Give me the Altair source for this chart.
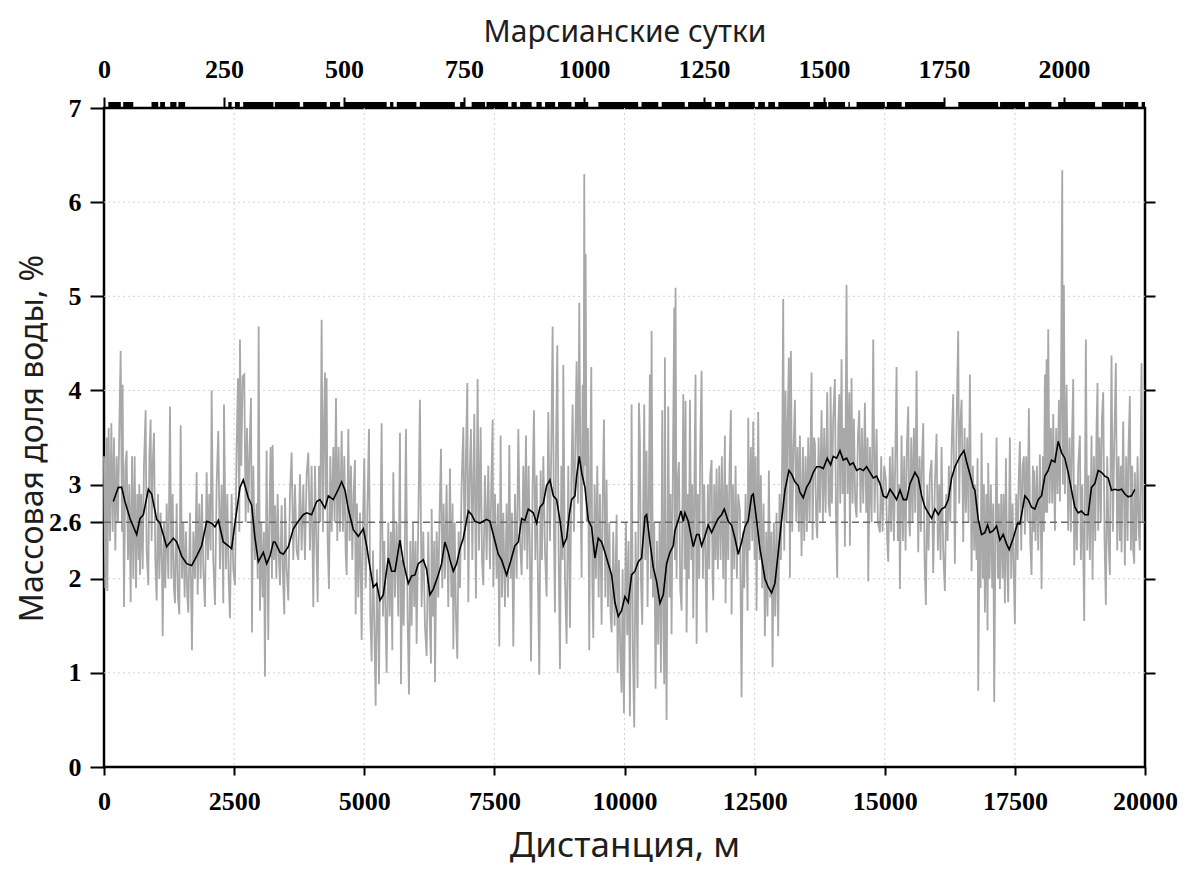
import altair as alt
import pandas as pd

# ---- black smoothed line (distance m, water %) ----
black_m = [179, 275, 339, 403, 499, 628, 692, 756, 852, 916, 1012, 1076, 1204, 1332, 1396, 1492, 1588, 1684, 1780, 1876, 1972, 2068, 2132, 2197, 2292, 2388, 2452, 2516, 2613, 2676, 2772, 2837, 2901, 2965, 3061, 3125, 3189, 3253,
           3285, 3381, 3445, 3541, 3637, 3733, 3829, 3893, 3989, 4085, 4150, 4246, 4310, 4406, 4502, 4566, 4630, 4694, 4790, 4886, 4982, 5046, 5110, 5174, 5238, 5302, 5366, 5462, 5526, 5590, 5686, 5750, 5846, 5910, 5974, 6038, 6134, 6198, 6262, 6326, 6422, 6486, 6550, 6614,
           6647, 6711, 6775, 6839, 6903, 6999, 7063, 7127, 7223, 7287, 7351, 7415, 7479, 7575, 7639, 7735, 7799, 7895, 7960, 8024, 8088, 8152, 8248, 8312, 8376, 8440, 8504, 8568, 8632, 8696, 8760, 8824, 8888, 8939, 8984, 9048, 9080, 9131, 9176, 9240, 9304, 9368, 9432, 9496, 9560, 9624, 9688, 9752, 9816, 9880, 9944,
           10008, 10072, 10136, 10200, 10265, 10329, 10393, 10425, 10489, 10553, 10617, 10681, 10745, 10809, 10873, 10937, 10969, 11033, 11085, 11129, 11161, 11225, 11289, 11321, 11385, 11430, 11481, 11545, 11609, 11673, 11737, 11801, 11865, 11917, 11993, 12057, 12122, 12186, 12250, 12314, 12378, 12442, 12474, 12538, 12602, 12698, 12762, 12826, 12890, 12954, 13018, 13082, 13159, 13210, 13274, 13338,
           13370, 13434, 13498, 13562, 13627, 13691, 13755, 13819, 13896, 13960, 14011, 14075, 14139, 14203, 14267, 14331, 14395, 14460, 14524, 14588, 14652, 14716, 14780, 14844, 14908, 14972, 15036, 15100, 15164, 15228, 15293, 15357, 15421, 15485, 15581, 15645, 15709, 15773, 15837, 15901, 15965, 16029, 16093, 16157, 16221, 16285, 16349, 16445, 16522, 16573, 16637, 16701,
           16732, 16796, 16860, 16924, 16975, 17020, 17084, 17148, 17212, 17276, 17340, 17391, 17468, 17552, 17596, 17692, 17756, 17820, 17884, 17948, 18012, 18076, 18140, 18204, 18268, 18332, 18396, 18460, 18524, 18588, 18652, 18716, 18780, 18844, 18908, 18972, 19036, 19100, 19164, 19228, 19293, 19357, 19421, 19485, 19549, 19613, 19677, 19741, 19805]
black_v = [2.82, 2.97, 2.97, 2.82, 2.64, 2.47, 2.64, 2.68, 2.95, 2.90, 2.63, 2.59, 2.34, 2.43, 2.39, 2.24, 2.16, 2.14, 2.24, 2.35, 2.61, 2.59, 2.55, 2.62, 2.39, 2.35, 2.32, 2.59, 2.97, 3.05, 2.86, 2.78, 2.43, 2.18, 2.28, 2.16, 2.24, 2.39,
           2.39, 2.28, 2.26, 2.34, 2.53, 2.61, 2.68, 2.70, 2.68, 2.82, 2.84, 2.75, 2.88, 2.84, 2.95, 3.03, 2.94, 2.74, 2.52, 2.45, 2.53, 2.35, 2.12, 1.91, 1.95, 1.77, 1.83, 2.22, 2.08, 2.08, 2.41, 2.18, 1.95, 2.03, 2.04, 2.16, 2.20, 2.10, 1.83, 1.89, 2.04, 2.16, 2.39, 2.28,
           2.20, 2.08, 2.16, 2.32, 2.43, 2.72, 2.68, 2.61, 2.59, 2.61, 2.63, 2.61, 2.47, 2.26, 2.20, 2.04, 2.16, 2.35, 2.39, 2.64, 2.62, 2.74, 2.70, 2.59, 2.76, 2.80, 2.99, 3.05, 2.88, 2.84, 2.62, 2.35, 2.43, 2.68, 2.84, 2.88, 3.09, 3.30, 3.13, 2.97, 2.62, 2.55, 2.22, 2.43, 2.39, 2.28, 2.16, 2.04, 1.75, 1.60, 1.66,
           1.81, 1.75, 2.04, 2.08, 2.18, 2.22, 2.66, 2.68, 2.39, 2.12, 1.97, 1.74, 1.83, 2.16, 2.28, 2.35, 2.51, 2.62, 2.72, 2.61, 2.70, 2.61, 2.43, 2.34, 2.47, 2.47, 2.35, 2.45, 2.57, 2.49, 2.57, 2.64, 2.68, 2.74, 2.61, 2.57, 2.43, 2.26, 2.39, 2.55, 2.62, 2.88, 2.90, 2.62, 2.32, 2.00, 1.91, 1.85, 1.95, 2.28, 2.62, 2.94, 3.15, 3.11, 3.03, 2.99,
           2.92, 2.86, 2.97, 3.03, 3.13, 3.19, 3.19, 3.17, 3.28, 3.21, 3.30, 3.28, 3.36, 3.26, 3.28, 3.21, 3.23, 3.15, 3.17, 3.15, 3.19, 3.13, 3.07, 3.09, 3.01, 2.88, 2.86, 2.95, 2.90, 2.84, 2.94, 2.84, 2.84, 3.01, 3.13, 3.07, 2.88, 2.76, 2.70, 2.64, 2.74, 2.68, 2.74, 2.76, 2.84, 3.07, 3.19, 3.30, 3.36, 3.24, 3.11, 2.97,
           2.94, 2.63, 2.47, 2.49, 2.57, 2.49, 2.51, 2.56, 2.41, 2.47, 2.37, 2.31, 2.43, 2.59, 2.58, 2.88, 2.84, 2.76, 2.74, 2.84, 2.88, 3.09, 3.15, 3.26, 3.24, 3.46, 3.34, 3.28, 3.13, 2.94, 2.76, 2.70, 2.72, 2.68, 2.68, 2.97, 3.01, 3.15, 3.13, 3.09, 3.07, 2.94, 2.95, 2.94, 2.95, 2.90, 2.87, 2.88, 2.95]

# ---- raw gray measurements (distance m, water %), by stretch ----
gray_0_3k = [(0,3.3),(25,1.9),(51,3.5),(64,1.87),(89,3.6),(115,2.4),(141,3.65),(166,2.5),(192,3.5),(218,2.3),(243,3.3),(269,2.6),(294,3.6),(320,4.42),(346,2.5),(358,4.06),(384,1.70),(410,3.2),(435,3.36),(461,2.2),(486,3.0),(512,1.75),(538,3.3),(563,2.0),(589,3.3),(615,1.9),(640,2.9),(666,2.2),(679,3.0),(691,2.04),(717,2.9),(743,2.1),(768,3.2),(800,3.79),(819,2.3),(851,1.93),(871,3.3),(896,3.69),(915,2.4),(935,3.2),(960,3.55),(986,2.2),(1012,1.77),(1037,2.9),(1063,2.0),(1088,2.7),(1114,2.1),(1127,1.39),(1152,2.6),(1178,1.9),(1204,2.8),(1236,2.0),(1268,3.83),(1293,2.0),(1319,2.9),(1344,1.9),(1364,1.74),(1396,2.8),(1421,1.8),(1447,1.62),(1473,3.63),(1498,2.0),(1524,2.6),(1549,1.8),(1575,2.5),(1601,1.8),(1620,1.64),(1652,2.7),(1690,1.24),(1716,2.5),(1748,2.0),(1780,3.13),(1799,1.83),(1831,2.8),(1857,2.0),(1882,2.9),(1908,2.1),(1940,1.70),(1972,3.13),(1998,2.2),(2023,2.9),(2049,2.3),(2068,4.0),(2100,2.2),(2132,1.72),(2164,3.0),(2196,3.57),(2228,2.1),(2260,3.0),(2292,1.74),(2305,3.85),(2343,2.1),(2369,2.9),(2395,2.0),(2420,1.58),(2452,2.9),(2484,2.1),(2516,1.93),(2548,3.4),(2574,4.13),(2600,2.5),(2612,4.54),(2638,3.2),(2664,4.15),(2695,4.17),(2721,2.6),(2747,3.6),(2772,2.7),(2798,3.4),(2824,3.92),(2843,1.43),(2868,3.2),(2900,2.2),(2932,2.8),(2952,2.0),(2971,4.68),(2996,1.66),(3022,2.6),(3048,1.8),(3073,2.5),(3092,0.96),(3124,3.36),(3156,1.35),(3176,2.6),(3201,3.4),(3227,2.0),(3240,3.42),(3265,2.2)]
gray_3k_6k = [(3285,2.78),(3311,2.0),(3336,2.9),(3362,2.2),(3381,1.93),(3413,2.78),(3439,2.0),(3464,1.62),(3477,2.86),(3509,2.1),(3541,1.77),(3573,2.9),(3605,3.34),(3637,2.2),(3669,3.0),(3701,2.3),(3733,2.2),(3765,3.11),(3797,2.3),(3829,3.0),(3861,2.2),(3893,3.1),(3925,3.34),(3957,2.3),(3989,3.2),(4021,1.70),(4053,3.2),(4079,2.4),(4105,1.75),(4130,3.2),(4156,2.6),(4181,4.75),(4207,2.5),(4226,3.6),(4245,4.19),(4265,2.8),(4277,4.13),(4297,2.4),(4322,1.89),(4348,3.3),(4374,2.5),(4406,3.4),(4431,2.6),(4457,3.92),(4482,2.4),(4508,3.4),(4534,2.5),(4566,3.57),(4591,2.5),(4617,3.3),(4642,2.3),(4662,2.04),(4694,3.59),(4719,2.4),(4745,3.2),(4771,2.2),(4796,2.9),(4822,3.26),(4835,1.62),(4860,2.8),(4886,1.8),(4918,2.7),(4950,1.35),(4975,2.6),(5001,3.28),(5027,1.9),(5052,2.5),(5091,3.59),(5116,1.6),(5142,1.12),(5167,2.3),(5193,1.5),(5219,0.65),(5244,2.1),(5270,1.4),(5283,0.88),(5308,2.3),(5334,3.65),(5360,1.6),(5385,2.4),(5411,1.5),(5430,1.0),(5462,2.6),(5488,1.6),(5513,2.5),(5539,1.24),(5558,3.13),(5590,1.8),(5622,2.6),(5654,1.6),(5686,3.55),(5705,0.88),(5731,2.2),(5757,1.5),(5782,2.5),(5801,3.59),(5833,1.6),(5859,0.77),(5885,2.4),(5910,1.5),(5936,2.6),(5961,1.7),(5987,2.4),(6006,1.31),(6038,2.6),(6070,3.90),(6102,1.7),(6134,2.5),(6166,1.5),(6198,1.18),(6230,2.5),(6256,1.6),(6282,1.1),(6295,2.74),(6320,1.6),(6346,2.4),(6359,0.90),(6391,2.5),(6422,1.8),(6448,2.7),(6474,3.38),(6499,1.9),(6525,2.8),(6550,2.0),(6582,3.0),(6614,1.70)]
gray_6k_10k = [(6647,3.17),(6673,1.8),(6698,2.8),(6711,1.25),(6737,2.6),(6762,1.6),(6788,1.15),(6813,2.5),(6839,1.9),(6871,3.0),(6903,3.61),(6929,2.2),(6954,3.3),(6980,4.08),(6999,1.75),(7025,3.1),(7050,3.59),(7076,2.2),(7114,3.75),(7146,1.79),(7178,4.12),(7204,2.3),(7236,3.61),(7262,2.2),(7287,1.93),(7319,3.1),(7351,2.2),(7383,3.2),(7415,2.1),(7441,3.0),(7467,3.69),(7479,1.91),(7511,2.9),(7543,2.0),(7569,2.8),(7595,1.28),(7620,3.52),(7646,1.8),(7671,2.7),(7703,1.7),(7735,2.8),(7761,1.8),(7787,3.42),(7812,2.0),(7838,2.7),(7864,1.28),(7895,2.9),(7928,2.0),(7960,3.59),(7992,2.4),(8024,2.04),(8056,3.2),(8081,2.3),(8107,3.52),(8133,2.1),(8158,3.2),(8184,2.2),(8203,1.12),(8235,3.0),(8261,3.79),(8286,2.2),(8312,3.1),(8337,2.0),(8363,0.98),(8389,3.15),(8414,2.2),(8440,3.3),(8472,2.3),(8504,1.81),(8536,3.77),(8568,2.4),(8594,3.4),(8619,4.68),(8645,2.5),(8664,1.64),(8683,3.3),(8709,4.48),(8734,2.3),(8760,1.04),(8786,3.2),(8811,2.2),(8824,4.27),(8856,2.0),(8888,1.31),(8920,3.2),(8952,1.48),(8978,3.0),(9003,3.85),(9029,2.5),(9054,3.4),(9080,4.31),(9106,2.8),(9131,4.93),(9157,2.9),(9176,2.01),(9195,4.06),(9215,3.0),(9227,6.30),(9240,3.2),(9253,5.45),(9272,2.6),(9298,3.6),(9323,1.24),(9343,3.2),(9362,4.25),(9381,2.0),(9400,1.37),(9426,3.0),(9452,2.0),(9477,3.2),(9503,1.8),(9528,2.9),(9560,1.51),(9580,2.8),(9605,3.69),(9631,1.8),(9656,3.05),(9682,1.7),(9708,2.6),(9733,1.6),(9753,1.43),(9784,2.5),(9810,1.5),(9849,2.68),(9868,1.0),(9893,2.2),(9919,1.2),(9944,0.79),(9964,2.1),(9989,0.57)]
gray_10k_13k = [(10008,1.62),(10027,2.6),(10053,1.4),(10078,2.4),(10104,0.54),(10123,2.2),(10136,3.85),(10162,1.2),(10187,0.42),(10213,2.5),(10239,1.5),(10251,0.84),(10277,3.87),(10296,3.48),(10315,2.0),(10341,1.51),(10360,2.8),(10379,3.85),(10399,2.2),(10424,3.36),(10443,1.70),(10469,3.0),(10488,4.17),(10507,2.0),(10520,4.63),(10546,1.8),(10571,2.6),(10597,0.83),(10623,2.4),(10648,1.3),(10674,2.6),(10700,1.0),(10725,3.79),(10744,1.6),(10764,0.88),(10776,4.35),(10796,1.5),(10808,0.50),(10828,2.5),(10840,3.83),(10866,1.8),(10885,2.9),(10904,1.41),(10930,3.2),(10956,4.88),(10968,2.2),(10981,5.09),(11000,2.0),(11020,3.0),(11045,3.24),(11071,1.9),(11097,1.66),(11129,3.96),(11154,2.1),(11173,3.89),(11193,1.43),(11218,2.9),(11237,2.0),(11257,3.90),(11282,2.2),(11301,3.0),(11321,1.58),(11346,3.2),(11365,4.17),(11385,1.31),(11410,2.9),(11436,2.0),(11455,3.4),(11481,4.21),(11506,2.0),(11532,3.0),(11558,2.1),(11577,1.43),(11602,3.0),(11628,2.1),(11647,3.1),(11673,3.26),(11692,2.0),(11705,1.77),(11724,3.0),(11750,2.2),(11769,3.17),(11794,2.1),(11820,3.2),(11846,2.2),(11871,3.3),(11897,2.0),(11929,3.52),(11942,1.74),(11967,3.0),(11993,2.2),(12019,3.2),(12044,3.79),(12057,1.62),(12083,3.0),(12108,2.1),(12134,3.2),(12159,2.0),(12185,2.9),(12217,2.72),(12249,0.74),(12275,2.5),(12300,1.9),(12326,2.9),(12352,2.2),(12364,1.66),(12377,3.71),(12403,2.3),(12428,3.4),(12454,2.4),(12473,3.67),(12499,2.2),(12518,3.3),(12537,1.66),(12569,3.77),(12595,2.2),(12620,3.1),(12646,1.9),(12672,2.8),(12697,1.39),(12723,2.5),(12748,1.6),(12774,3.15),(12800,1.8),(12825,2.5),(12845,1.06),(12870,2.6),(12896,1.6),(12921,2.7),(12953,1.39),(12979,2.9),(13005,2.2),(13030,3.3),(13049,4.97),(13069,2.3),(13094,4.0),(13114,2.6),(13133,3.6),(13158,4.35),(13178,2.01),(13197,4.42),(13222,2.5),(13248,3.4),(13274,3.9),(13299,2.6),(13325,3.4),(13350,2.5)]
gray_13k_17k = [(13370,3.52),(13402,2.24),(13428,3.4),(13453,2.4),(13479,3.3),(13504,2.5),(13530,3.5),(13556,2.6),(13594,4.19),(13613,2.41),(13639,3.5),(13658,3.44),(13684,2.6),(13703,2.43),(13729,3.5),(13754,2.7),(13786,3.79),(13812,2.6),(13837,3.6),(13863,2.7),(13895,3.98),(13921,2.8),(13946,2.66),(13959,4.04),(13985,2.8),(14010,3.7),(14042,4.12),(14062,2.7),(14087,2.01),(14106,3.6),(14126,3.96),(14145,2.8),(14170,4.33),(14190,2.9),(14215,3.6),(14234,2.34),(14266,5.12),(14286,2.9),(14318,3.98),(14330,2.35),(14362,4.13),(14382,2.8),(14407,3.7),(14433,2.8),(14459,2.65),(14484,3.5),(14510,3.79),(14535,2.7),(14561,3.6),(14587,2.8),(14619,3.87),(14644,2.7),(14670,3.5),(14683,1.97),(14715,3.4),(14747,2.6),(14779,4.54),(14804,2.7),(14843,3.59),(14868,2.6),(14907,2.49),(14932,3.3),(14958,2.5),(14990,3.2),(15022,3.05),(15048,2.4),(15067,2.18),(15099,3.3),(15124,2.5),(15150,3.4),(15176,2.4),(15201,3.2),(15227,4.25),(15252,2.4),(15278,3.0),(15291,1.89),(15323,3.52),(15349,2.4),(15374,3.3),(15400,2.3),(15425,3.4),(15451,3.83),(15470,2.6),(15483,2.45),(15509,3.5),(15534,2.6),(15560,3.6),(15585,2.7),(15611,4.21),(15643,2.28),(15669,3.3),(15694,2.5),(15713,3.2),(15739,3.65),(15765,2.2),(15790,1.72),(15816,3.0),(15842,2.3),(15867,3.1),(15899,3.26),(15931,2.06),(15963,3.0),(15995,3.54),(16021,2.3),(16047,3.0),(16072,2.2),(16091,3.40),(16123,2.3),(16155,1.87),(16181,2.9),(16207,2.4),(16232,3.2),(16258,2.6),(16290,3.5),(16315,3.96),(16347,2.16),(16379,3.6),(16411,4.63),(16431,2.8),(16450,3.6),(16476,3.90),(16508,2.39),(16533,3.6),(16559,2.7),(16584,3.5),(16610,2.6),(16636,4.17),(16668,2.08),(16693,3.2),(16719,2.3)]
gray_17k_20k = [(16732,3.0),(16764,2.2),(16783,3.28),(16796,0.81),(16822,2.6),(16841,1.9),(16860,3.55),(16886,2.0),(16905,3.0),(16924,1.64),(16950,2.9),(16975,1.45),(16988,3.23),(17014,2.0),(17039,3.0),(17065,1.9),(17084,2.8),(17103,0.69),(17129,2.6),(17148,3.50),(17174,2.0),(17193,2.8),(17212,1.89),(17238,2.9),(17263,2.0),(17283,2.9),(17308,1.74),(17327,3.28),(17353,2.1),(17372,1.75),(17404,3.50),(17430,2.0),(17456,2.8),(17481,2.0),(17500,1.52),(17526,2.9),(17552,2.2),(17571,3.0),(17596,3.46),(17622,2.3),(17648,3.2),(17673,3.3),(17692,2.47),(17718,3.3),(17744,2.6),(17769,3.81),(17795,2.4),(17820,2.04),(17846,3.2),(17859,2.5),(17872,3.15),(17897,2.4),(17923,3.2),(17949,2.3),(17981,3.32),(18013,1.89),(18038,3.3),(18057,2.5),(18077,4.17),(18089,2.7),(18109,4.33),(18121,2.7),(18141,4.65),(18166,2.8),(18192,3.6),(18217,2.8),(18237,3.75),(18269,2.51),(18294,3.6),(18320,2.9),(18346,3.9),(18365,2.82),(18384,3.8),(18410,6.34),(18422,3.0),(18442,5.12),(18461,2.9),(18493,4.06),(18525,2.51),(18550,3.5),(18576,2.5),(18595,3.4),(18621,4.12),(18640,2.14),(18666,3.0),(18691,2.3),(18717,3.2),(18749,3.52),(18768,2.20),(18794,3.0),(18813,2.3),(18832,1.55),(18864,4.54),(18890,2.3),(18915,3.1),(18941,2.2),(18973,3.52),(18992,1.99),(19018,3.3),(19044,2.4),(19069,3.6),(19088,4.08),(19101,2.51),(19127,3.5),(19152,2.6),(19172,3.7),(19197,3.98),(19223,2.4),(19248,1.72),(19274,3.3),(19300,2.4),(19325,2.04),(19344,3.6),(19357,4.37),(19383,2.5),(19408,3.4),(19440,4.29),(19466,2.3),(19492,3.3),(19517,2.4),(19536,3.2),(19549,2.28),(19581,3.67),(19613,2.14),(19639,3.3),(19665,2.4),(19684,3.4),(19709,3.94),(19729,2.3),(19754,3.2),(19773,2.3),(19793,2.16),(19805,3.13),(19831,2.4),(19857,3.3),(19882,2.5),(19901,2.30),(19921,3.6),(19933,4.29),(19953,2.6)]

# ---- sols with measurements (start, end) shown as rug on the top axis ----
sol_spans = [(9,35),(40,61),(99,113),(117,127),(138,151),(155,169),(259,266),(273,283),(290,353),(356,408),(415,464),(471,492),(502,589),(596,603),(610,651),(658,731),(742,752),(766,794),(797,842),(849,860),(867,891),(901,912),(919,940),(946,974),(981,1009),(1030,1113),(1120,1155),(1162,1210),(1217,1266),(1273,1294),(1301,1356),(1363,1377),(1384,1398),(1405,1471),(1478,1506),(1509,1544),(1551,1554),(1568,1627),(1631,1662),(1669,1752),(1780,1863),(1867,1919),(1926,1974),(1988,2065),(2079,2124),(2127,2155),(2162,2169)]

mean_level = 2.6
dist_ticks = [0, 2500, 5000, 7500, 10000, 12500, 15000, 17500, 20000]
dist_grid = [2500, 5000, 7500, 10000, 12500, 15000, 17500]
sol_ticks = [0, 250, 500, 750, 1000, 1250, 1500, 1750, 2000]
y_ticks = [0, 1, 2, 2.6, 3, 4, 5, 6, 7]
y_grid = [1, 2, 3, 4, 5, 6]
y_right_ticks = [1, 2, 3, 4, 5, 6]

gray_pairs = gray_0_3k + gray_3k_6k + gray_6k_10k + gray_10k_13k + gray_13k_17k + gray_17k_20k
gray_df = pd.DataFrame(gray_pairs, columns=["m", "v"])
black_df = pd.DataFrame({"m": black_m, "v": black_v})
rug_df = pd.DataFrame(sol_spans, columns=["s", "e"])
ref_df = pd.DataFrame({"y": [mean_level]})
vgrid_df = pd.DataFrame({"m": dist_grid})
hgrid_df = pd.DataFrame({"y": y_grid})

xs = alt.Scale(domain=[0, 20000], nice=False, zero=False)
ys = alt.Scale(domain=[0, 7], nice=False, zero=False)
sol_scale = alt.Scale(domain=[0, 2169], nice=False, zero=False)

LBL = dict(labelFont="Liberation Serif", labelFontWeight="bold", labelFontSize=26, labelColor="black")
TTL = dict(titleFont="Noto Sans", titleFontWeight="normal", titleColor="#1e1e1e")

bottom_axis = alt.Axis(orient="bottom", values=dist_ticks, format="d", tickSize=8, tickWidth=2, tickColor="black",
                       labelPadding=13, labelFlush=False, labelOverlap=False, domain=False, grid=False,
                       titleFontSize=35, titlePadding=14, **LBL, **TTL)
left_axis = alt.Axis(orient="left", values=y_ticks, format=".1~f", tickSize=14, tickWidth=2, tickColor="black",
                     labelPadding=9, labelOverlap=False, domain=False, grid=False,
                     titleFontSize=32, titleX=-55, titleY=330, titleAngle=270, titleBaseline="bottom",
                     titleAlign="center", **LBL, **TTL)
right_axis = alt.Axis(orient="right", values=y_right_ticks, labels=False, tickSize=10, tickWidth=2,
                      tickColor="black", domain=False, grid=False)
top_axis = alt.Axis(orient="top", values=sol_ticks, format="d", tickSize=11, tickWidth=2, tickColor="black",
                    labelPadding=15, labelFlush=False, labelOverlap=False, domain=False, grid=False,
                    titleFontSize=30, titlePadding=9, **LBL, **TTL)

vgrid = alt.Chart(vgrid_df).mark_rule(color="#d2d2d2", strokeDash=[2, 3], strokeWidth=1).encode(
    x=alt.X("m:Q", scale=xs, axis=bottom_axis, title="Дистанция, м"),
)
hgrid = alt.Chart(hgrid_df).mark_rule(color="#d2d2d2", strokeDash=[2, 3], strokeWidth=1).encode(
    y=alt.Y("y:Q", scale=ys, axis=left_axis, title="Массовая доля воды, %"),
)
gray = alt.Chart(gray_df).mark_line(color="#a8a8a8", strokeWidth=1.8).encode(
    x=alt.X("m:Q", scale=xs, axis=None),
    y=alt.Y("v:Q", scale=ys, axis=None),
)
ref = alt.Chart(ref_df).mark_rule(color="#6a6a6a", strokeDash=[7, 4], strokeWidth=1.6).encode(
    y=alt.Y("y:Q", scale=ys, axis=None),
)
black = alt.Chart(black_df).mark_line(color="black", strokeWidth=1.6).encode(
    x=alt.X("m:Q", scale=xs, axis=None),
    y=alt.Y("v:Q", scale=ys, axis=right_axis, title=None),
)
rug = alt.Chart(rug_df).mark_rect(color="black").encode(
    x=alt.X("s:Q", scale=sol_scale, axis=top_axis, title="Марсианские сутки"),
    x2="e:Q",
    y=alt.value(-6),
    y2=alt.value(0),
)

chart = (
    alt.layer(vgrid, hgrid, gray, ref, black, rug)
    .resolve_scale(x="independent")
    .resolve_axis(x="independent", y="independent")
    .properties(
        width=1041, height=659,
        autosize=alt.AutoSizeParams(type="none"),
        padding={"left": 96, "top": 100, "right": 43, "bottom": 101},
        background="white",
    )
    .configure_view(stroke="black", strokeWidth=2.5)
)

chart.save("out.html", embed_options={"renderer": "svg", "actions": False})
